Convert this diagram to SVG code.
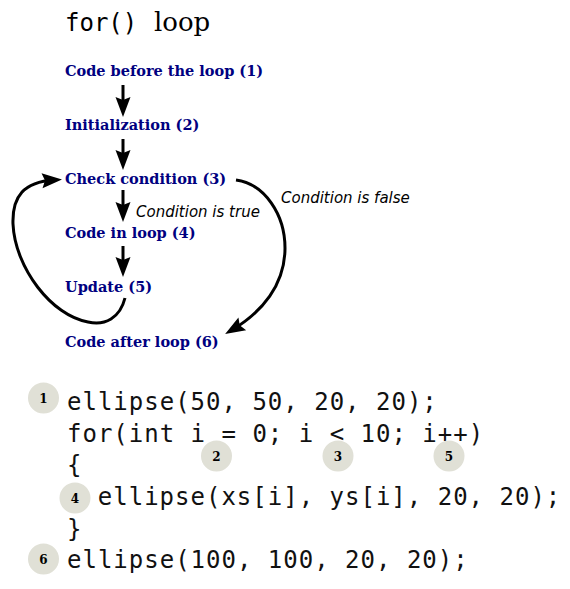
<svg xmlns="http://www.w3.org/2000/svg" width="570" height="589" viewBox="0 0 570 589">
<defs>
<style>
.node{font-family:"DejaVu Serif","Liberation Serif",serif;font-weight:bold;font-size:14.5px;fill:#000080}
.lbl{font-family:"DejaVu Sans","Liberation Sans",sans-serif;font-style:italic;font-size:15px;fill:#000}
.code{font-family:"DejaVu Sans Mono","Liberation Mono",monospace;font-size:24px;letter-spacing:1px;fill:#111}
.num{font-family:"DejaVu Serif","Liberation Serif",serif;font-weight:bold;font-size:12px;fill:#000;text-anchor:middle}
.badge{fill:#e0e0d6}
.conn{fill:none;stroke:#000;stroke-width:3;marker-end:url(#ah)}
</style>
<marker id="ah" markerUnits="userSpaceOnUse" markerWidth="24" markerHeight="20" viewBox="-14 -10 24 20" refX="0" refY="0" orient="auto">
<path d="M-12,-7.5 L8,0 L-12,7.5 L-9,0 z" fill="#000"/>
</marker>
</defs>
<rect width="570" height="589" fill="#fff"/>
<g id="title">
<text x="65" y="31" font-family="'DejaVu Sans Mono','Liberation Mono',monospace" font-size="24" fill="#000">for()</text>
<text x="154" y="31" font-family="'DejaVu Serif','Liberation Serif',serif" font-size="26" fill="#000">loop</text>
</g>
<g id="connectors">
<path class="conn" d="M123,85 V109"/>
<path class="conn" d="M123,139 V162"/>
<path class="conn" d="M123,190 V214"/>
<path class="conn" d="M123,246 V269"/>
<path class="conn" d="M125,298 C120,318 105,326 88,322 C52,316 15,268 13,224 C12,196 24,182 54,180"/>
<path class="conn" d="M236,180 C265,184 285,215 285,248 C285,285 262,312 232,330"/>
<text class="lbl" x="136" y="217">Condition is true</text>
<text class="lbl" x="281" y="203">Condition is false</text>
</g>
<g id="n1"><text class="node" x="65" y="76">Code before the loop (1)</text></g>
<g id="n2"><text class="node" x="65" y="130">Initialization (2)</text></g>
<g id="n3"><text class="node" x="65" y="184">Check condition (3)</text></g>
<g id="n4"><text class="node" x="65" y="238">Code in loop (4)</text></g>
<g id="n5"><text class="node" x="65" y="292">Update (5)</text></g>
<g id="n6"><text class="node" x="65" y="347">Code after loop (6)</text></g>
<g id="code">
<text class="code" x="67" y="410">ellipse(50, 50, 20, 20);</text>
<text class="code" x="67" y="441.6">for(int i = 0; i &lt; 10; i++)</text>
<text class="code" x="67" y="473">{</text>
<text class="code" x="97.8" y="505">ellipse(xs[i], ys[i], 20, 20);</text>
<text class="code" x="67" y="536.5">}</text>
<text class="code" x="67" y="568">ellipse(100, 100, 20, 20);</text>
</g>
<g id="b1"><circle class="badge" cx="43.5" cy="398" r="15.5"/><text class="num" x="43.5" y="402.5">1</text></g>
<g id="b2"><circle class="badge" cx="216.5" cy="456" r="15.5"/><text class="num" x="216.5" y="460.5">2</text></g>
<g id="b3"><circle class="badge" cx="338" cy="456" r="15.5"/><text class="num" x="338" y="460.5">3</text></g>
<g id="b5"><circle class="badge" cx="449" cy="456" r="15.5"/><text class="num" x="449" y="460.5">5</text></g>
<g id="b4"><circle class="badge" cx="75" cy="498" r="15.5"/><text class="num" x="75" y="502.5">4</text></g>
<g id="b6"><circle class="badge" cx="43.5" cy="559" r="15.5"/><text class="num" x="43.5" y="563.5">6</text></g>
</svg>
